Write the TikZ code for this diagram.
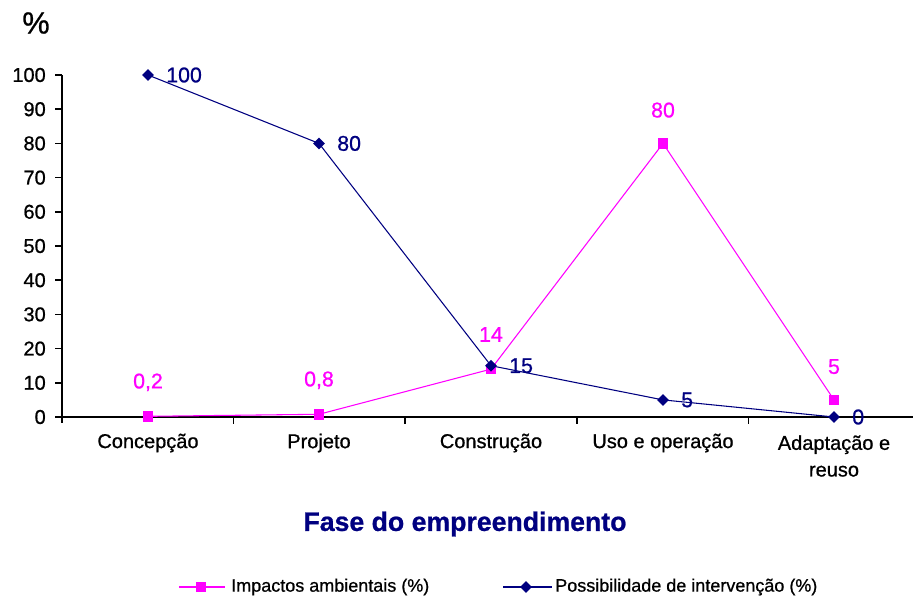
\documentclass[tikz,border=0pt]{standalone}
\usepackage{fontspec}
\setmainfont{Liberation Sans}[FakeBold=0.8]
\usetikzlibrary{shapes.geometric}
\definecolor{pinkc}{RGB}{255,0,255}
\definecolor{navyc}{RGB}{0,0,128}
\begin{document}
\begin{tikzpicture}[x=0.75pt,y=-0.75pt,
  axisline/.style={line width=1.1pt,black},
  ticklabel/.style={anchor=east,inner sep=0pt,font=\fontsize{15}{18}\selectfont},
  catlabel/.style={align=center,inner sep=0pt,font=\fontsize{15}{20}\selectfont},
  pinkline/.style={pinkc,line width=0.8pt},
  navyline/.style={navyc,line width=0.8pt},
  pinkmark/.style={rectangle,fill=pinkc,minimum size=8pt,inner sep=0pt},
  navymark/.style={diamond,fill=navyc,minimum size=9pt,inner sep=0pt},
  pinklab/.style={text=pinkc,inner sep=0pt,font=\fontsize{16}{19}\selectfont},
  navylab/.style={text=navyc,anchor=west,inner sep=0pt,font=\fontsize{16}{19}\selectfont},
  legtext/.style={anchor=west,inner sep=0pt,font=\fontsize{13.5}{16}\selectfont}]
\useasboundingbox (0,0) rectangle (913,601);
% axes
\draw[axisline] (62,75) -- (62,423);
\draw[axisline] (62,417) -- (913,417);
\foreach \v in {0,10,...,100}{
  \draw[axisline] (55,{417-3.42*\v}) -- (62,{417-3.42*\v});
  \node[ticklabel] (t\v) at (46,{417-3.42*\v}) {\v};
}
\foreach \xx in {233.5,405,577,748.5}{
  \draw[axisline] (\xx,417) -- (\xx,424);
}
\node[font=\fontsize{23}{26}\selectfont,inner sep=0pt] (pct) at (36,23) {\%};
% categories
\node[catlabel] (c1) at (148,443) {Concepção};
\node[catlabel] (c2) at (319,443) {Projeto};
\node[catlabel] (c3) at (491,443) {Construção};
\node[catlabel] (c4) at (663,443) {Uso e operação};
\node[catlabel] (c5) at (834,456) {Adaptação e\\reuso};
\node[font=\bfseries\fontsize{20}{24}\selectfont,text=navyc,inner sep=0pt] (title) at (465,524) {Fase do empreendimento};
% data coordinates
\coordinate (p1) at (148,{417-3.42*0.2});
\coordinate (p2) at (319,{417-3.42*0.8});
\coordinate (p3) at (491,{417-3.42*14});
\coordinate (p4) at (663,{417-3.42*80});
\coordinate (p5) at (834,{417-3.42*5});
\coordinate (b1) at (148,{417-3.42*100});
\coordinate (b2) at (319,{417-3.42*80});
\coordinate (b3) at (491,{417-3.42*15});
\coordinate (b4) at (663,{417-3.42*5});
\coordinate (b5) at (834,{417-3.42*0});
% pink series
\draw[pinkline] (p1) -- (p2) -- (p3) -- (p4) -- (p5);
\foreach \i in {1,...,5}{\node[pinkmark] (pm\i) at (p\i) {};}
% navy series
\draw[navyline] (b1) -- (b2) -- (b3) -- (b4) -- (b5);
\foreach \i in {1,...,5}{\node[navymark] (bm\i) at (b\i) {};}
% data labels
\node[pinklab] (pl1) at ([yshift=25.5pt]p1) {0,2};
\node[pinklab] (pl2) at ([yshift=25.5pt]p2) {0,8};
\node[pinklab] (pl3) at ([yshift=26pt]p3) {14};
\node[pinklab] (pl4) at ([yshift=25pt]p4) {80};
\node[pinklab] (pl5) at ([yshift=25pt]p5) {5};
\node[navylab] (bl1) at ([xshift=13.5pt]b1) {100};
\node[navylab] (bl2) at ([xshift=13.5pt]b2) {80};
\node[navylab] (bl3) at ([xshift=13.5pt]b3) {15};
\node[navylab] (bl4) at ([xshift=13.5pt]b4) {5};
\node[navylab] (bl5) at ([xshift=13.5pt]b5) {0};
% legend
\coordinate (la1) at (179,587);
\coordinate (la2) at (225,587);
\draw[pinkline] (la1) -- (la2);
\node[pinkmark] (lm1) at (201,587) {};
\node[legtext] (lt1) at (231,587) {Impactos ambientais (\%)};
\coordinate (lb1) at (503,587);
\coordinate (lb2) at (552,587);
\draw[navyline] (lb1) -- (lb2);
\node[navymark] (lm2) at (526,587) {};
\node[legtext] (lt2) at (555,587) {Possibilidade de intervenção (\%)};
\end{tikzpicture}
\end{document}
